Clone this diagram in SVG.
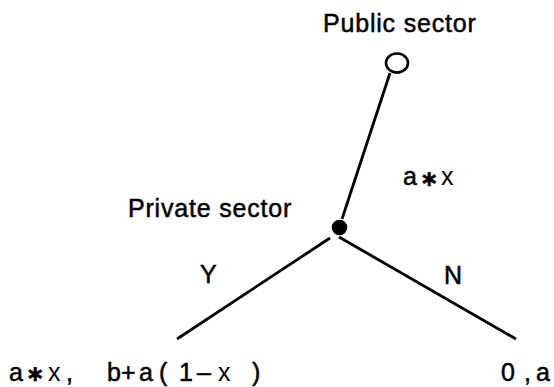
<svg xmlns="http://www.w3.org/2000/svg" width="554" height="387" viewBox="0 0 554 387">
<style>
.t{font-family:"Liberation Sans",Arial,sans-serif;font-size:25px;fill:#000;stroke:#000;stroke-width:0.5;}
.lbl{letter-spacing:0.8px;}
.ast{font-family:"DejaVu Sans",sans-serif;font-weight:bold;font-size:22px;}
.xx{stroke-width:0;}
.e{stroke:#000;stroke-width:2.8;fill:none;stroke-linecap:butt;}
</style>
<rect width="554" height="387" fill="#fff"/>
<g id="connectors">
<line class="e" x1="390" y1="73" x2="342" y2="219"/>
<line class="e" x1="330" y1="238" x2="177" y2="339"/>
<line class="e" x1="339" y1="237" x2="516" y2="339"/>
</g>
<g id="public-sector">
<ellipse cx="397" cy="63" rx="11" ry="9.5" fill="#fff" stroke="#000" stroke-width="2.6"/>
<text class="t lbl" x="323" y="32">Public sector</text>
</g>
<g id="private-sector">
<circle cx="339.5" cy="227.5" r="7.8" fill="#000"/>
<text class="t lbl" x="128" y="217">Private sector</text>
</g>
<g id="edge-labels">
<text class="t" x="403" y="185">a</text><text class="t ast" x="420" y="186">∗</text><text class="t xx" x="441" y="185">x</text>
<text class="t" x="200" y="283">Y</text>
<text class="t" x="444" y="284">N</text>
</g>
<g id="payoff-yes">
<text class="t" y="381"><tspan x="9">a</tspan><tspan class="ast" x="26">∗</tspan><tspan class="xx" x="48">x</tspan><tspan x="66">,</tspan><tspan x="107">b+</tspan><tspan x="139">a</tspan><tspan x="159">(</tspan><tspan x="179">1</tspan><tspan x="197">–</tspan><tspan class="xx" x="218">x</tspan><tspan x="252">)</tspan></text>
</g>
<g id="payoff-no">
<text class="t" y="381"><tspan x="501">0</tspan><tspan x="524">,</tspan><tspan x="536">a</tspan></text>
</g>
</svg>
